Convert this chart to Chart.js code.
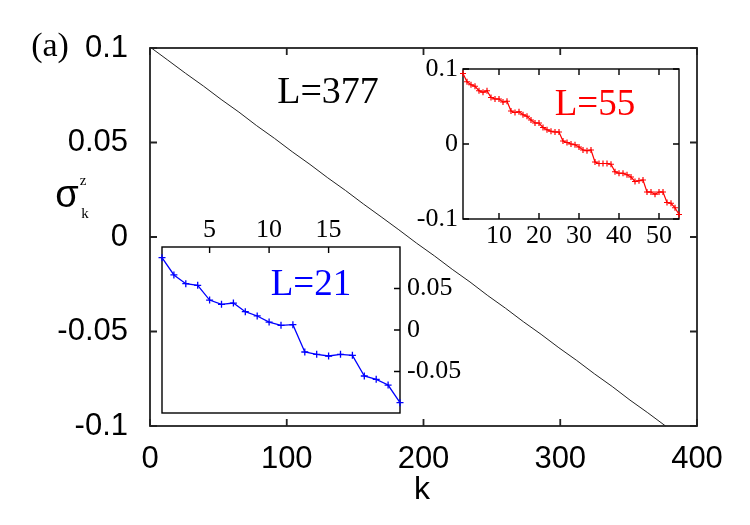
<!DOCTYPE html>
<html>
<head>
<meta charset="utf-8">
<script src="https://cdn.jsdelivr.net/npm/chart.js@4.4.0/dist/chart.umd.min.js"></script>
<style>
  html, body { margin: 0; padding: 0; background: #fff; }
  #wrap { position: relative; width: 750px; height: 525px; }
  canvas { position: absolute; }
  #mainChart { left: 0; top: 0; }
  #inset21 { left: 150px; top: 215px; }
  #inset55 { left: 400px; top: 55px; }
</style>
</head>
<body>
<div id="wrap">
  <canvas id="mainChart" width="750" height="525" style="width:750px;height:525px"></canvas>
  <canvas id="inset21" width="320" height="210" style="width:320px;height:210px"></canvas>
  <canvas id="inset55" width="290" height="210" style="width:290px;height:210px"></canvas>
</div>
<script>
// main curve, L=377
const mainK = [1, 13, 26, 39, 52, 65, 78, 91, 104, 117, 130, 143, 156, 169, 182,
  195, 208, 221, 234, 247, 260, 273, 286, 299, 312, 325, 338, 351, 364, 377];
const mainSz = [0.1000, 0.0936, 0.0866, 0.0799, 0.0728, 0.0661, 0.0589, 0.0522, 0.0451, 0.0384,
  0.0313, 0.0246, 0.0175, 0.0107, 0.0038, -0.0033, -0.0100, -0.0171, -0.0238, -0.0310,
  -0.0377, -0.0448, -0.0515, -0.0586, -0.0653, -0.0724, -0.0791, -0.0863, -0.0930, -0.1000];

// inset L=21
const k21 = [1, 2, 3, 4, 5, 6, 7, 8, 9, 10, 11, 12, 13, 14, 15, 16, 17, 18, 19, 20, 21];
const sz21 = [0.0871, 0.0663, 0.0558, 0.0538, 0.0361, 0.0309, 0.0325, 0.0221, 0.0169, 0.0096,
  0.0056, 0.0064, -0.0265, -0.0293, -0.0313, -0.0293, -0.0305, -0.0554, -0.0594, -0.0663, -0.0876];

// inset L=55
const k55 = [];
for (let i = 1; i <= 55; i++) k55.push(i);
const sz55 = [0.094, 0.083, 0.079, 0.077, 0.071, 0.069, 0.071, 0.062, 0.060, 0.060,
  0.056, 0.057, 0.044, 0.042, 0.043, 0.039, 0.037, 0.032, 0.028, 0.028,
  0.022, 0.019, 0.017, 0.016, 0.016, 0.004, 0.002, 0.000, -0.001, -0.004,
  -0.008, -0.009, -0.008, -0.024, -0.026, -0.026, -0.026, -0.027, -0.037, -0.039,
  -0.039, -0.041, -0.044, -0.050, -0.049, -0.048, -0.064, -0.064, -0.067, -0.064,
  -0.064, -0.078, -0.079, -0.085, -0.094];

// tick labels
const mainXTicks = [0, 100, 200, 300, 400];
const mainYTicks = [-0.1, -0.05, 0, 0.05, 0.1];
const in21XTicks = [5, 10, 15];
const in21YTicks = [-0.05, 0, 0.05];
const in55XTicks = [10, 20, 30, 40, 50];
const in55YTicks = [-0.1, 0, 0.1];

const SANS = '"Liberation Sans", Arial, sans-serif';
const SERIF = '"Liberation Serif", "Times New Roman", serif';

// Khung + vạch chia hướng vào trong
const framePlugin = {
  id: 'frame',
  beforeDatasetsDraw(chart, args, opts) {
    const a = chart.chartArea;
    const ctx = chart.ctx;
    ctx.save();
    ctx.fillStyle = '#fff';
    ctx.fillRect(a.left, a.top, a.right - a.left, a.bottom - a.top);
    ctx.strokeStyle = opts.color || '#000';
    ctx.lineWidth = opts.lineWidth || 1.5;
    const len = opts.len || 6;
    ctx.beginPath();
    const xs = chart.scales.x;
    xs.ticks.forEach(t => {
      const px = xs.getPixelForValue(t.value);
      if (opts.bottom) { ctx.moveTo(px, a.bottom); ctx.lineTo(px, a.bottom - len); }
      if (opts.top) { ctx.moveTo(px, a.top); ctx.lineTo(px, a.top + len); }
    });
    const ys = chart.scales.y;
    ys.ticks.forEach(t => {
      const py = ys.getPixelForValue(t.value);
      if (opts.left) { ctx.moveTo(a.left, py); ctx.lineTo(a.left + len, py); }
      if (opts.right) { ctx.moveTo(a.right, py); ctx.lineTo(a.right - len, py); }
    });
    ctx.stroke();
    ctx.strokeRect(a.left, a.top, a.right - a.left, a.bottom - a.top);
    ctx.restore();
  }
};

// Chữ chú thích
const textPlugin = {
  id: 'texts',
  afterDraw(chart, args, opts) {
    const ctx = chart.ctx;
    (opts.items || []).forEach(it => {
      ctx.save();
      ctx.font = it.font;
      ctx.fillStyle = it.color || '#000';
      ctx.textAlign = it.align || 'center';
      ctx.textBaseline = 'middle';
      ctx.fillText(it.text, it.x, it.y);
      ctx.restore();
    });
  }
};

function fixedTicks(values) {
  return scale => { scale.ticks = values.map(v => ({ value: v })); };
}

function axis(opts) {
  return {
    type: 'linear',
    position: opts.position,
    min: opts.min,
    max: opts.max,
    grid: { display: false, drawTicks: false },
    border: { display: false },
    afterBuildTicks: fixedTicks(opts.ticks),
    afterFit: s => {
      if (opts.width !== undefined) s.width = opts.width;
      if (opts.height !== undefined) s.height = opts.height;
      // không để nhãn đẩy vùng vẽ
      s.paddingTop = 0;
      s.paddingBottom = 0;
      s.paddingLeft = 0;
      s.paddingRight = 0;
    },
    ticks: {
      display: opts.labels !== false,
      font: opts.font,
      color: '#000',
      padding: opts.padding,
      autoSkip: false,
      maxRotation: 0,
      callback: v => String(v)
    }
  };
}

function baseOptions(scales, frame, texts, padding) {
  return {
    responsive: false,
    animation: false,
    events: [],
    layout: { padding: padding },
    scales: scales,
    plugins: {
      legend: { display: false },
      tooltip: { enabled: false },
      frame: frame,
      texts: { items: texts }
    }
  };
}

function toPoints(xs, ys) {
  return xs.map((x, i) => ({ x: x, y: ys[i] }));
}

// Biểu đồ chính
new Chart(document.getElementById('mainChart').getContext('2d'), {
  type: 'line',
  data: {
    datasets: [{
      data: toPoints(mainK, mainSz),
      borderColor: '#222',
      borderWidth: 1,
      pointRadius: 0,
      tension: 0,
      clip: false
    }]
  },
  options: baseOptions({
    x: axis({ position: 'bottom', min: 0, max: 400, ticks: mainXTicks, height: 99,
      font: { family: SANS, size: 31 }, padding: 15 }),
    y: axis({ position: 'left', min: -0.1, max: 0.1, ticks: mainYTicks, width: 150,
      font: { family: SANS, size: 31 }, padding: 22 })
  }, { len: 7, lineWidth: 1.8, color: '#222', top: true, bottom: true, left: true, right: true }, [
    { text: '(a)', x: 50, y: 47, font: '34px ' + SERIF },
    { text: 'σ', x: 67, y: 197, font: '38px ' + SANS },
    { text: 'z', x: 83, y: 181, font: '15px ' + SERIF },
    { text: 'k', x: 85, y: 214, font: '15px ' + SERIF },
    { text: 'k', x: 422, y: 490, font: '32px ' + SANS },
    { text: 'L=377', x: 328, y: 93, font: '38px ' + SERIF }
  ], { top: 48, right: 53, left: 0, bottom: 0 }),
  plugins: [framePlugin, textPlugin]
});

// Inset L=21
new Chart(document.getElementById('inset21').getContext('2d'), {
  type: 'line',
  data: {
    datasets: [{
      data: toPoints(k21, sz21),
      borderColor: '#0000ff',
      borderWidth: 1.3,
      pointStyle: 'cross',
      pointRadius: 3.5,
      pointBorderWidth: 1.3,
      pointBorderColor: '#0000ff',
      tension: 0,
      clip: false
    }]
  },
  options: baseOptions({
    x: axis({ position: 'top', min: 1, max: 21, ticks: in21XTicks, height: 32,
      font: { family: SERIF, size: 26 }, padding: 1 }),
    y: axis({ position: 'right', min: -0.1, max: 0.1, ticks: in21YTicks, width: 70,
      font: { family: SERIF, size: 26 }, padding: 7 })
  }, { len: 6, lineWidth: 1.4, top: true, right: true }, [
    { text: 'L=21', x: 161, y: 70, font: '37px ' + SERIF, color: '#0000ff' }
  ], { top: 0, right: 0, left: 12, bottom: 12 }),
  plugins: [framePlugin, textPlugin]
});

// Inset L=55
new Chart(document.getElementById('inset55').getContext('2d'), {
  type: 'line',
  data: {
    datasets: [{
      data: toPoints(k55, sz55),
      borderColor: '#ff0000',
      borderWidth: 1.2,
      pointStyle: 'cross',
      pointRadius: 3,
      pointBorderWidth: 1.2,
      pointBorderColor: '#ff0000',
      tension: 0,
      clip: false
    }]
  },
  options: baseOptions({
    x: axis({ position: 'bottom', min: 1, max: 55, ticks: in55XTicks, height: 46,
      font: { family: SERIF, size: 26 }, padding: 2 }),
    y: axis({ position: 'left', min: -0.1, max: 0.1, ticks: in55YTicks, width: 63,
      font: { family: SERIF, size: 26 }, padding: 5 })
  }, { len: 6, lineWidth: 1.4, top: true, bottom: true, left: true, right: true }, [
    { text: 'L=55', x: 195, y: 50, font: '37px ' + SERIF, color: '#ff0000' }
  ], { top: 14, right: 11, left: 0, bottom: 0 }),
  plugins: [framePlugin, textPlugin]
});
</script>
</body>
</html>
